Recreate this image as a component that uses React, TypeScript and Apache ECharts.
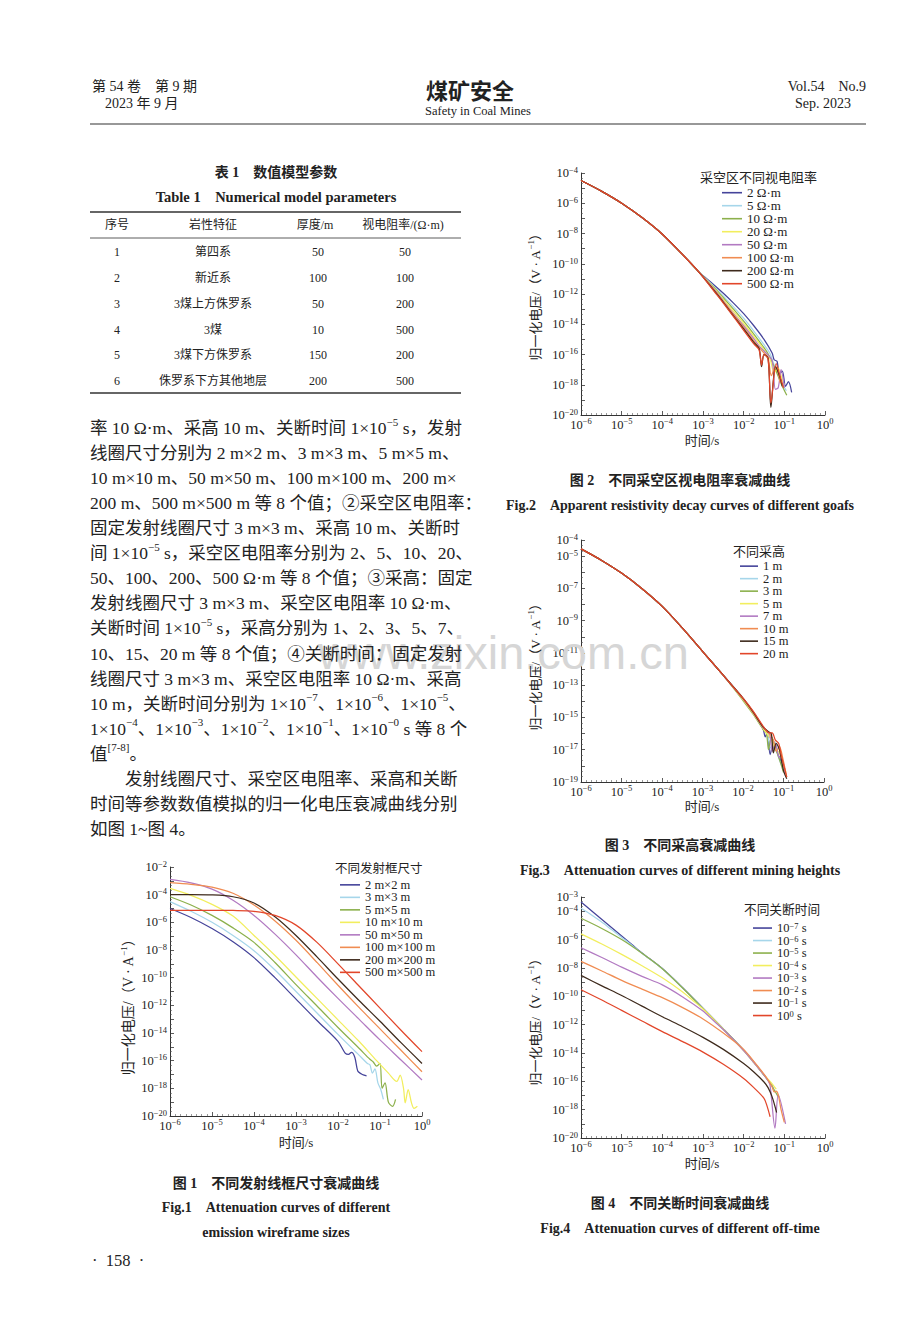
import React, { useEffect, useRef } from 'react';
import * as echarts from 'echarts';

const SERIF = "'Liberation Serif', 'Noto Sans CJK SC', serif";
const CJK = "'Liberation Serif', 'Noto Sans CJK SC', sans-serif";
const INK = '#222';

const COLORS = ['#45449a', '#a6d6ea', '#8cb04c', '#f2ee5e', '#b27ac2', '#f08c52', '#3e2a1c', '#e2462a'];

// ---------------- Figure 1: different loop sizes (x = log10 t, y = log10 V) ----------------
const fig1Names = ['2 m×2 m', '3 m×3 m', '5 m×5 m', '10 m×10 m', '50 m×50 m', '100 m×100 m', '200 m×200 m', '500 m×500 m'];
const fig1Loop2 = [[-6, -5.0], [-5.5, -5.65], [-5, -6.45], [-4.5, -7.4], [-4, -8.55], [-3.5, -10.0], [-3, -11.55], [-2.5, -13.1], [-2, -14.6], [-1.83, -15.45], [-1.75, -15.55], [-1.68, -15.4], [-1.6, -15.75], [-1.53, -16.75], [-1.45, -16.95], [-1.38, -17.05], [-1.32, -17.1]];
const fig1Loop3 = [[-6, -4.5], [-5.5, -5.2], [-5, -6.0], [-4.5, -6.95], [-4, -8.05], [-3.5, -9.45], [-3, -11.0], [-2.5, -12.55], [-2, -14.1], [-1.5, -15.6], [-1.3, -16.2], [-1.24, -16.3], [-1.18, -16.9], [-1.12, -16.6], [-1.05, -17.6], [-0.98, -18.1], [-0.92, -18.8]];
const fig1Loop5 = [[-6, -4.15], [-5.5, -4.75], [-5, -5.5], [-4.5, -6.4], [-4, -7.45], [-3.5, -8.9], [-3, -10.5], [-2.5, -12.05], [-2, -13.6], [-1.5, -15.1], [-1.24, -15.9], [-1.16, -16.1], [-1.08, -16.4], [-1.0, -16.2], [-0.95, -18.0], [-0.88, -17.6], [-0.8, -19.0], [-0.7, -19.3], [-0.63, -18.8]];
const fig1Loop10 = [[-6, -3.55], [-5.5, -4.05], [-5, -4.7], [-4.5, -5.55], [-4, -6.95], [-3.5, -8.4], [-3, -9.95], [-2.5, -11.5], [-2, -13.05], [-1.5, -14.6], [-1.08, -16.0], [-0.8, -16.9], [-0.6, -17.5], [-0.52, -17.05], [-0.44, -18.0], [-0.4, -19.05], [-0.33, -18.1], [-0.25, -19.05], [-0.19, -19.45], [-0.11, -19.3]];
const fig1Loop50 = [[-6, -2.9], [-5.5, -3.15], [-5, -3.6], [-4.5, -4.4], [-4, -5.5], [-3.5, -6.85], [-3, -8.35], [-2.5, -9.95], [-2, -11.5], [-1.5, -13.0], [-1, -14.5], [-0.5, -15.95], [0, -17.4]];
const fig1Loop100 = [[-6, -3.13], [-5.5, -3.25], [-5, -3.45], [-4.5, -3.9], [-4, -4.75], [-3.5, -5.9], [-3, -7.3], [-2.5, -8.9], [-2, -10.55], [-1.5, -12.15], [-1, -13.7], [-0.5, -15.25], [0, -16.8]];
const fig1Loop200 = [[-6, -4.0], [-5.5, -4.0], [-5, -4.02], [-4.5, -4.15], [-4, -4.6], [-3.5, -5.6], [-3, -6.95], [-2.5, -8.5], [-2, -10.1], [-1.5, -11.65], [-1, -13.15], [-0.5, -14.7], [0, -16.2]];
const fig1Loop500 = [[-6, -5.13], [-5, -5.13], [-4.5, -5.14], [-4, -5.2], [-3.5, -5.5], [-3, -6.2], [-2.5, -7.45], [-2, -9.0], [-1.5, -10.6], [-1, -12.2], [-0.5, -13.8], [0, -15.35]];
const fig1Data = [fig1Loop2, fig1Loop3, fig1Loop5, fig1Loop10, fig1Loop50, fig1Loop100, fig1Loop200, fig1Loop500];

// ---------------- Figure 2: different goaf resistivity ----------------
const fig2Names = ['2 Ω·m', '5 Ω·m', '10 Ω·m', '20 Ω·m', '50 Ω·m', '100 Ω·m', '200 Ω·m', '500 Ω·m'];
const fig2Early = [[-6, -4.5], [-5.5, -5.2], [-5, -6.0], [-4.5, -6.95], [-4, -8.05], [-3.5, -9.4], [-3.1, -10.55]];
const fig2R2 = [[-2.75, -11.35], [-2.5, -11.95], [-2.25, -12.6], [-2, -13.3], [-1.75, -14.1], [-1.5, -15.0], [-1.3, -15.9], [-1.25, -16.35], [-1.18, -16.45], [-1.12, -17.3], [-1.05, -17.1], [-0.97, -18.1], [-0.9, -17.8], [-0.82, -18.5]];
const fig2R5 = [[-2.75, -11.45], [-2.5, -12.15], [-2.25, -12.85], [-2, -13.6], [-1.75, -14.45], [-1.5, -15.35], [-1.35, -15.95], [-1.25, -16.7], [-1.15, -17.2], [-1.05, -17.9], [-0.95, -18.4]];
const fig2R10 = [[-2.75, -11.5], [-2.5, -12.25], [-2.25, -13.0], [-2, -13.8], [-1.75, -14.65], [-1.5, -15.55], [-1.4, -15.95], [-1.3, -16.5], [-1.2, -17.1], [-1.1, -17.8], [-0.94, -18.7]];
const fig2R20 = [[-2.75, -11.55], [-2.5, -12.35], [-2.25, -13.15], [-2, -13.95], [-1.75, -14.8], [-1.55, -15.5], [-1.45, -15.9], [-1.35, -16.3], [-1.25, -17.2], [-1.15, -16.9], [-1.05, -17.7], [-1.0, -18.0]];
const fig2R50 = [[-2.75, -11.6], [-2.5, -12.45], [-2.25, -13.3], [-2, -14.1], [-1.75, -14.95], [-1.6, -15.5], [-1.45, -15.9], [-1.3, -16.4], [-1.22, -18.3], [-1.15, -18.2], [-1.08, -17.0], [-1.0, -18.2]];
const fig2R100 = [[-2.75, -11.65], [-2.5, -12.5], [-2.25, -13.35], [-2, -14.2], [-1.75, -15.1], [-1.6, -15.6], [-1.5, -15.9], [-1.4, -16.2], [-1.32, -17.4], [-1.22, -16.8], [-1.1, -17.9]];
const fig2R200 = [[-2.75, -11.7], [-2.5, -12.55], [-2.25, -13.45], [-2, -14.3], [-1.75, -15.2], [-1.62, -15.6], [-1.56, -16.8], [-1.5, -16.0], [-1.4, -16.25], [-1.33, -19.5], [-1.22, -16.8], [-1.12, -17.4], [-1.05, -18.1]];
const fig2R500 = [[-2.75, -11.75], [-2.5, -12.6], [-2.25, -13.5], [-2, -14.4], [-1.75, -15.3], [-1.62, -15.7], [-1.56, -16.7], [-1.5, -16.0], [-1.4, -16.3], [-1.33, -19.2], [-1.2, -16.6], [-1.1, -17.5], [-1.02, -18.2]];
const fig2Tails = [fig2R2, fig2R5, fig2R10, fig2R20, fig2R50, fig2R100, fig2R200, fig2R500];

// ---------------- Figure 3: different mining heights ----------------
const fig3Names = ['1 m', '2 m', '3 m', '5 m', '7 m', '10 m', '15 m', '20 m'];
const fig3Early = [[-6, -4.55], [-5.5, -5.25], [-5, -6.05], [-4.5, -7.0], [-4, -8.1], [-3.5, -9.45], [-3, -10.9], [-2.5, -12.35]];
const fig3H1 = [[-2, -13.85], [-1.75, -14.7], [-1.6, -15.3], [-1.5, -15.75], [-1.45, -16.2], [-1.4, -15.9], [-1.33, -17.3], [-1.25, -16.6], [-1.15, -17.2], [-1.05, -17.8], [-0.95, -18.5]];
const fig3H2 = [[-2, -13.9], [-1.75, -14.75], [-1.5, -15.7], [-1.4, -16.0], [-1.32, -16.9], [-1.22, -16.5], [-1.12, -17.5], [-1.0, -18.2], [-0.92, -18.6]];
const fig3H3 = [[-2, -13.95], [-1.75, -14.8], [-1.5, -15.75], [-1.42, -16.0], [-1.37, -17.0], [-1.3, -16.2], [-1.2, -16.9], [-1.1, -17.6], [-1.0, -18.4]];
const fig3H5 = [[-2, -13.9], [-1.75, -14.75], [-1.5, -15.7], [-1.38, -16.1], [-1.3, -16.4], [-1.22, -16.9], [-1.1, -17.2], [-1.0, -18.0], [-0.94, -18.4]];
const fig3H7 = [[-2, -13.85], [-1.75, -14.7], [-1.5, -15.65], [-1.35, -15.95], [-1.28, -17.1], [-1.2, -16.6], [-1.12, -17.4], [-1.02, -17.7], [-0.95, -18.5]];
const fig3H10 = [[-2, -13.85], [-1.75, -14.7], [-1.5, -15.6], [-1.35, -16.0], [-1.25, -16.4], [-1.18, -17.1], [-1.1, -16.8], [-1.02, -17.5], [-0.92, -18.7]];
const fig3H15 = [[-2, -13.8], [-1.75, -14.65], [-1.5, -15.6], [-1.36, -15.9], [-1.3, -16.0], [-1.25, -17.2], [-1.18, -16.6], [-1.1, -17.0], [-1.0, -18.3], [-0.92, -18.8]];
const fig3H20 = [[-2, -13.8], [-1.75, -14.6], [-1.5, -15.55], [-1.35, -15.95], [-1.28, -15.95], [-1.2, -16.4], [-1.12, -16.6], [-1.05, -17.4], [-0.98, -18.1], [-0.92, -18.7]];
const fig3Tails = [fig3H1, fig3H2, fig3H3, fig3H5, fig3H7, fig3H10, fig3H15, fig3H20];

// ---------------- Figure 4: different off-time ----------------
const fig4Names = ['10^-7 s', '10^-6 s', '10^-5 s', '10^-4 s', '10^-3 s', '10^-2 s', '10^-1 s', '10^0 s'];
const fig4T7 = [[-6, -3.35], [-5.75, -3.95], [-5.5, -4.55], [-5.25, -5.15], [-5, -5.75], [-4.75, -6.35], [-4.5, -6.95], [-4, -8.05], [-3.5, -9.4], [-3, -10.85], [-2.5, -12.3], [-2, -13.8], [-1.75, -14.65], [-1.5, -15.55], [-1.35, -16.1], [-1.28, -16.35]];
const fig4T6 = [[-6, -3.8], [-5.75, -4.25], [-5.5, -4.75], [-5.25, -5.3], [-5, -5.85], [-4.75, -6.4], [-4.5, -6.97], [-4, -8.06], [-3.5, -9.41], [-3, -10.86], [-2.5, -12.31], [-2, -13.81], [-1.75, -14.66], [-1.5, -15.56], [-1.35, -16.12], [-1.25, -16.5]];
const fig4T5 = [[-6, -4.5], [-5.5, -5.2], [-5, -6.0], [-4.5, -6.97], [-4, -8.06], [-3.5, -9.42], [-3, -10.87], [-2.5, -12.32], [-2, -13.82], [-1.75, -14.67], [-1.5, -15.57], [-1.35, -16.13], [-1.25, -16.6], [-1.15, -17.1]];
const fig4T4 = [[-6, -5.6], [-5.5, -6.3], [-5, -7.05], [-4.5, -7.85], [-4, -8.7], [-3.5, -9.7], [-3.25, -10.3], [-3, -10.9], [-2.5, -12.33], [-2, -13.83], [-1.5, -15.55], [-1.35, -16.0], [-1.2, -16.55]];
const fig4T3 = [[-6, -6.58], [-5.5, -7.25], [-5, -7.95], [-4.5, -8.6], [-4, -9.2], [-3.5, -10.05], [-3, -11.05], [-2.75, -11.7], [-2.5, -12.35], [-2, -13.84], [-1.5, -15.56], [-1.4, -15.95], [-1.35, -16.3], [-1.23, -19.3], [-1.15, -16.95], [-0.97, -19.0]];
const fig4T2 = [[-6, -7.54], [-5.5, -8.2], [-5, -8.88], [-4.5, -9.5], [-4, -10.1], [-3.5, -10.8], [-3, -11.6], [-2.5, -12.6], [-2, -13.75], [-1.75, -14.6], [-1.5, -15.5], [-1.38, -16.0], [-1.3, -16.4], [-1.25, -16.75], [-1.2, -16.7], [-1.15, -16.95], [-1.08, -18.0], [-1.0, -18.9]];
const fig4T1 = [[-6, -8.53], [-5.5, -9.25], [-5, -9.95], [-4.5, -10.7], [-4, -11.45], [-3.5, -12.15], [-3, -12.9], [-2.5, -13.75], [-2, -14.75], [-1.75, -15.35], [-1.5, -16.05], [-1.4, -16.45], [-1.3, -17.1], [-1.19, -18.2]];
const fig4T0 = [[-6, -9.54], [-5.5, -10.25], [-5, -11.0], [-4.5, -11.75], [-4, -12.5], [-3.5, -13.2], [-3, -13.94], [-2.5, -14.8], [-2, -15.8], [-1.75, -16.45], [-1.5, -17.2], [-1.43, -17.7], [-1.35, -18.5]];
const fig4Data = [fig4T7, fig4T6, fig4T5, fig4T4, fig4T3, fig4T2, fig4T1, fig4T0];

// ---------------- Table 1 ----------------
const tableHeader = ['序号', '岩性特征', '厚度/m', '视电阻率/(Ω·m)'];
const tableRows = [
  ['1', '第四系', '50', '50'],
  ['2', '新近系', '100', '100'],
  ['3', '3煤上方侏罗系', '50', '200'],
  ['4', '3煤', '10', '500'],
  ['5', '3煤下方侏罗系', '150', '200'],
  ['6', '侏罗系下方其他地层', '200', '500'],
];

// ---------------- Body text ----------------
const bodyLines = [
  '率 10 Ω·m、采高 10 m、关断时间 1×10{s|−5} s，发射',
  '线圈尺寸分别为 2 m×2 m、3 m×3 m、5 m×5 m、',
  '10 m×10 m、50 m×50 m、100 m×100 m、200 m×',
  '200 m、500 m×500 m 等 8 个值；②采空区电阻率：',
  '固定发射线圈尺寸 3 m×3 m、采高 10 m、关断时',
  '间 1×10{s|−5} s，采空区电阻率分别为 2、5、10、20、',
  '50、100、200、500 Ω·m 等 8 个值；③采高：固定',
  '发射线圈尺寸 3 m×3 m、采空区电阻率 10 Ω·m、',
  '关断时间 1×10{s|−5} s，采高分别为 1、2、3、5、7、',
  '10、15、20 m 等 8 个值；④关断时间：固定发射',
  '线圈尺寸 3 m×3 m、采空区电阻率 10 Ω·m、采高',
  '10 m，关断时间分别为 1×10{s|−7}、1×10{s|−6}、1×10{s|−5}、',
  '1×10{s|−4}、1×10{s|−3}、1×10{s|−2}、1×10{s|−1}、1×10{s|−0} s 等 8 个',
  '值{s|[7-8]}。',
  '发射线圈尺寸、采空区电阻率、采高和关断',
  '时间等参数数值模拟的归一化电压衰减曲线分别',
  '如图 1~图 4。',
];

function pow10Label(v: number) {
  const e = Math.round(v);
  return e === 0 ? '{b|10}{s|0}' : `{b|10}{s|−${Math.abs(e)}}`;
}

const tickRich = {
  b: { fontSize: 12.5, fontFamily: SERIF, color: INK, lineHeight: 15 },
  s: { fontSize: 8.5, fontFamily: SERIF, color: INK, verticalAlign: 'top' },
};

type ChartCfg = {
  grid: { left: number; top: number; width: number; height: number };
  yMin: number; yMax: number;
  names: string[];
  data: number[][][];
  legend: { left: number; top: number; lineH: number; fontSize: number; itemWidth: number };
  title: { text: string; x: number; y: number; size: number };
  yName: { x: number; y: number; size: number };
  xName: { x: number; y: number; size: number };
  rich?: boolean;
};

function buildOption() {
  const charts: ChartCfg[] = [
    {
      grid: { left: 170, top: 867, width: 252, height: 249 }, yMin: -20, yMax: -2,
      names: fig1Names, data: fig1Data,
      legend: { left: 340, top: 878.6, lineH: 11.3, fontSize: 12.5, itemWidth: 20 },
      title: { text: '不同发射框尺寸', x: 335, y: 869, size: 12.5 },
      yName: { x: 128, y: 1004, size: 14 }, xName: { x: 296, y: 1142, size: 13 },
    },
    {
      grid: { left: 581, top: 173, width: 244, height: 242 }, yMin: -20, yMax: -4,
      names: fig2Names, data: fig2Tails.map((t) => [...fig2Early, ...t]),
      legend: { left: 722, top: 186.2, lineH: 12.3, fontSize: 13, itemWidth: 20 },
      title: { text: '采空区不同视电阻率', x: 700, y: 177, size: 13 },
      yName: { x: 535, y: 294, size: 13 }, xName: { x: 702, y: 440, size: 13 },
    },
    {
      grid: { left: 581, top: 540, width: 243, height: 242 }, yMin: -19, yMax: -4,
      names: fig3Names, data: fig3Tails.map((t) => [...fig3Early, ...t]),
      legend: { left: 740, top: 559.9, lineH: 11.65, fontSize: 12.5, itemWidth: 18 },
      title: { text: '不同采高', x: 733, y: 551, size: 13 },
      yName: { x: 535, y: 664, size: 13 }, xName: { x: 702, y: 806, size: 13 },
    },
    {
      grid: { left: 581, top: 897, width: 244, height: 241 }, yMin: -20, yMax: -3,
      names: fig4Names, data: fig4Data,
      legend: { left: 753, top: 921.8, lineH: 11.9, fontSize: 12.5, itemWidth: 19 },
      title: { text: '不同关断时间', x: 744, y: 910, size: 12.7 },
      yName: { x: 535, y: 1019, size: 13 }, xName: { x: 702, y: 1163, size: 13 },
      rich: true,
    },
  ];

  const grid: any[] = [];
  const xAxis: any[] = [];
  const yAxis: any[] = [];
  const series: any[] = [];
  const legend: any[] = [];
  const graphic: any[] = [];

  const axisCommon = {
    type: 'value',
    interval: 1,
    axisLine: { show: true, onZero: false, lineStyle: { color: '#333', width: 1 } },
    axisTick: { show: true, inside: true, length: 4, lineStyle: { color: '#333', width: 0.8 } },
    minorTick: { show: true, length: 2, lineStyle: { color: '#555', width: 0.6 } },
    splitLine: { show: false },
    minorSplitLine: { show: false },
  };

  charts.forEach((c, i) => {
    grid.push({ ...c.grid, show: false, containLabel: false, outerBoundsMode: 'none' });
    xAxis.push({
      ...axisCommon, gridIndex: i, min: -6, max: 0,
      minorTick: { ...axisCommon.minorTick, splitNumber: 8 },
      axisLabel: { margin: 2, showMinLabel: true, showMaxLabel: true, hideOverlap: false, formatter: (v: number) => pow10Label(v), rich: tickRich },
    });
    yAxis.push({
      ...axisCommon, gridIndex: i, min: c.yMin, max: c.yMax,
      minorTick: { ...axisCommon.minorTick, splitNumber: 3 },
      axisLabel: {
        margin: 3, showMinLabel: true, showMaxLabel: true, hideOverlap: false,
        formatter: (v: number) => {
          const r = Math.round(v);
          if (r !== c.yMax && (r - c.yMin) % 2 !== 0) return '';
          return pow10Label(r);
        },
        rich: tickRich,
      },
    });
    c.names.forEach((name, k) => {
      series.push({
        type: 'line', name, xAxisIndex: i, yAxisIndex: i,
        data: c.data[k], showSymbol: false, symbol: 'none', smooth: 0.3,
        lineStyle: { width: 1.25, color: COLORS[k] }, itemStyle: { color: COLORS[k] },
        emphasis: { disabled: true }, silent: true,
      });
    });
    legend.push({
      data: c.names, orient: 'vertical', left: c.legend.left, top: c.legend.top,
      itemWidth: c.legend.itemWidth, itemHeight: 1.6, itemGap: 0, icon: 'rect', padding: 0,
      selectedMode: false,
      textStyle: {
        fontSize: c.legend.fontSize, fontFamily: SERIF, color: INK, lineHeight: c.legend.lineH,
        rich: c.rich ? {
          b: { fontSize: c.legend.fontSize, fontFamily: SERIF, color: INK, lineHeight: c.legend.lineH },
          s: { fontSize: 8.5, fontFamily: SERIF, color: INK, verticalAlign: 'top' },
        } : undefined,
      },
      formatter: c.rich ? (name: string) => {
        const e = name.replace('10^', '').replace(' s', '').replace('-', '−');
        return `{b|10}{s|${e}}{b| s}`;
      } : undefined,
    });
    graphic.push(txt(c.title.text, c.title.x, c.title.y, c.title.size, { family: CJK }));
    graphic.push({
      type: 'text', x: c.yName.x, y: c.yName.y, rotation: Math.PI / 2, z: 10, silent: true,
      style: {
        text: '归一化电压/（V · A{s|−1}）', fill: INK, fontSize: c.yName.size, fontFamily: CJK,
        textAlign: 'center', textVerticalAlign: 'middle', lineHeight: 18,
        rich: { s: { fontSize: 9, fontFamily: SERIF, fill: INK, verticalAlign: 'top' } },
      },
    });
    graphic.push(txt('时间/s', c.xName.x, c.xName.y, c.xName.size, { align: 'center', family: CJK }));
  });

  // watermark
  graphic.push({
    type: 'text', x: 318, y: 652, z: 1, silent: true,
    style: { text: 'www.zixin.com.cn', fill: '#d6d6d6', fontSize: 47, fontFamily: "'Liberation Sans', sans-serif", textAlign: 'left', textVerticalAlign: 'middle' },
  });

  // header
  graphic.push(txt('第 54 卷　第 9 期', 92, 86, 14, { family: CJK }));
  graphic.push(txt('2023 年 9 月', 105, 103, 14, { family: CJK }));
  graphic.push(txt('煤矿安全', 470, 89, 22, { align: 'center', family: "'Noto Sans CJK SC', sans-serif", bold: true }));
  graphic.push(txt('Safety in Coal Mines', 478, 111, 12.5, { align: 'center' }));
  graphic.push(txt('Vol.54　No.9', 866, 86, 14, { align: 'right' }));
  graphic.push(txt('Sep. 2023', 851, 103, 14, { align: 'right' }));
  graphic.push(hline(90, 866, 124, 1.2));

  // table
  graphic.push(txt('表 1　数值模型参数', 276, 172, 14, { align: 'center', family: CJK, bold: true }));
  graphic.push(txt('Table 1　Numerical model parameters', 276, 197, 14.5, { align: 'center', bold: true }));
  graphic.push(hline(90, 461, 212, 1.5));
  graphic.push(hline(90, 461, 238, 0.8));
  graphic.push(hline(90, 461, 393, 1.5));
  const headX = [117, 213, 315, 403];
  const colX = [117, 213, 318, 405];
  tableHeader.forEach((h, j) => graphic.push(txt(h, headX[j], 225, 12, { align: 'center', family: CJK })));
  const rowY = [252, 278, 304, 330, 355, 381];
  tableRows.forEach((row, r) => row.forEach((cell, j) => graphic.push(txt(cell, colX[j], rowY[r], 12, { align: 'center', family: CJK }))));

  // body
  bodyLines.forEach((line, k) => {
    const x = k === 14 ? 125 : 90;
    const y = 428 + k * 25.06;
    graphic.push(txt(line, x, y, 17.5, { family: CJK, rich: true }));
  });

  // captions
  const cap = (t: string, x: number, y: number, cjk: boolean) => graphic.push(txt(t, x, y, 14, { align: 'center', bold: true, family: cjk ? CJK : SERIF }));
  cap('图 2　不同采空区视电阻率衰减曲线', 680, 480, true);
  cap('Fig.2　Apparent resistivity decay curves of different goafs', 680, 505, false);
  cap('图 3　不同采高衰减曲线', 680, 845, true);
  cap('Fig.3　Attenuation curves of different mining heights', 680, 870, false);
  cap('图 1　不同发射线框尺寸衰减曲线', 276, 1183, true);
  cap('Fig.1　Attenuation curves of different', 276, 1207, false);
  cap('emission wireframe sizes', 276, 1232, false);
  cap('图 4　不同关断时间衰减曲线', 680, 1203, true);
  cap('Fig.4　Attenuation curves of different off-time', 680, 1228, false);
  graphic.push(txt('·  158  ·', 92, 1260, 16.5, {}));

  return {
    animation: false,
    backgroundColor: '#fff',
    grid, xAxis, yAxis, series, legend,
    graphic: { elements: graphic },
  };
}

function txt(text: string, x: number, y: number, size: number, o: { align?: string; family?: string; bold?: boolean; rich?: boolean }) {
  const fam = o.family || SERIF;
  return {
    type: 'text', x, y, z: 10, silent: true,
    style: {
      text, fill: INK, fontSize: size, fontFamily: fam, fontWeight: o.bold ? 'bold' : 'normal',
      textAlign: o.align || 'left', textVerticalAlign: 'middle',
      lineHeight: o.rich ? 24 : undefined,
      rich: o.rich ? { s: { fontSize: 11, fontFamily: SERIF, fill: INK, verticalAlign: 'top' } } : undefined,
    },
  };
}

function hline(x1: number, x2: number, y: number, w: number) {
  return { type: 'line', z: 10, silent: true, shape: { x1, y1: y, x2, y2: y }, style: { stroke: '#333', lineWidth: w } };
}

export default function App() {
  const ref = useRef<HTMLDivElement>(null);
  useEffect(() => {
    const chart = echarts.init(ref.current!, null, { renderer: 'svg', width: 920, height: 1335 });
    chart.setOption(buildOption() as any);
    return () => chart.dispose();
  }, []);
  return <div ref={ref} style={{ position: 'absolute', left: 0, top: 0, width: 920, height: 1335, background: '#fff' }} />;
}
